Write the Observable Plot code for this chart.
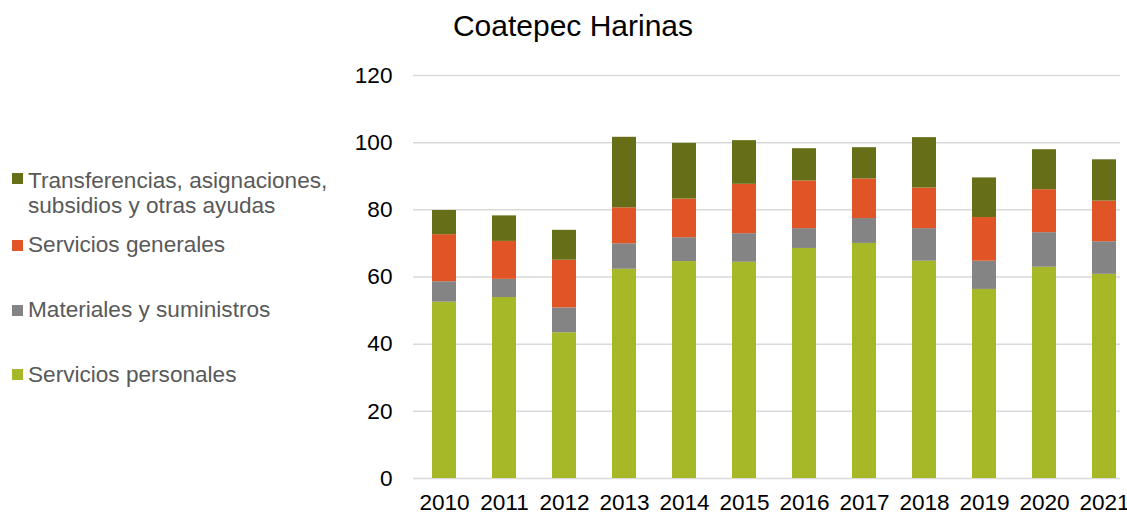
<!DOCTYPE html>
<html>
<head>
<meta charset="utf-8">
<script src="https://cdn.jsdelivr.net/npm/d3@7"></script>
<script src="https://cdn.jsdelivr.net/npm/@observablehq/plot@0.6"></script>
<style>
  html, body { margin: 0; padding: 0; background: #fff; }
  #wrap { position: relative; width: 1127px; height: 514px; overflow: hidden; font-family: "Liberation Sans", Arial, sans-serif; }
  #chart { position: absolute; left: 0; top: 0; }
  #title { position: absolute; left: 0; width: 1146px; top: 11px; text-align: center; font-size: 30px; line-height: 1; color: #000; }
  .lg { position: absolute; left: 28px; font-size: 22.6px; line-height: 25px; color: #595959; white-space: nowrap; }
  .sw { position: absolute; left: 12px; width: 11px; height: 11px; }
</style>
</head>
<body>
<div id="wrap">
  <div id="chart"></div>
  <div id="title">Coatepec Harinas</div>
  <div id="legend"></div>
</div>
<script>
const years = ["2010","2011","2012","2013","2014","2015","2016","2017","2018","2019","2020","2021"];
const serviciosPersonales = [52.5, 53.9, 43.4, 62.3, 64.6, 64.4, 68.5, 70.0, 64.7, 56.3, 62.9, 60.8];
const materialesSuministros = [6.1, 5.4, 7.4, 7.6, 7.1, 8.5, 5.9, 7.4, 9.7, 8.4, 10.3, 9.7];
const serviciosGenerales = [14.0, 11.3, 14.2, 10.7, 11.5, 14.7, 14.2, 11.8, 12.1, 13.0, 12.8, 12.1];
const transferencias = [7.2, 7.6, 8.9, 21.0, 16.6, 13.0, 9.6, 9.3, 15.0, 11.8, 11.9, 12.3];
const seriesNames = ["Servicios personales", "Materiales y suministros", "Servicios generales", "Transferencias, asignaciones, subsidios y otras ayudas"];
const seriesColors = ["#a6b728", "#848484", "#e05426", "#666f18"];
const yTicks = [0, 20, 40, 60, 80, 100, 120];

const seriesValues = [serviciosPersonales, materialesSuministros, serviciosGenerales, transferencias];
const data = [];
seriesNames.forEach((s, i) => {
  years.forEach((y, j) => data.push({year: y, serie: s, value: seriesValues[i][j]}));
});

const chart = Plot.plot({
  width: 1127,
  height: 514,
  marginLeft: 413,
  marginRight: 7,
  marginTop: 75,
  marginBottom: 36,
  x: {domain: years, range: [413, 1135], paddingInner: 0.6, paddingOuter: 0.3, label: null, tickSize: 0, tickPadding: 15},
  y: {domain: [0, 120], ticks: yTicks, label: null, tickSize: 0, tickPadding: 21},
  color: {domain: seriesNames, range: seriesColors},
  style: {fontFamily: "'Liberation Sans', Arial, sans-serif", fontSize: "22.6px", color: "#000", background: "transparent", overflow: "visible"},
  marks: [
    Plot.ruleY(yTicks, {stroke: "#d9d9d9", strokeWidth: 1.5}),
    Plot.barY(data, {x: "year", y: "value", fill: "serie"})
  ]
});
document.getElementById("chart").appendChild(chart);

// Legend (top to bottom: reversed stack order)
const legendItems = [
  {lines: ["Transferencias, asignaciones,", "subsidios y otras ayudas"], color: seriesColors[3], top: 168, sq: 173},
  {lines: ["Servicios generales"], color: seriesColors[2], top: 232, sq: 240},
  {lines: ["Materiales y suministros"], color: seriesColors[1], top: 297, sq: 305},
  {lines: ["Servicios personales"], color: seriesColors[0], top: 362, sq: 369}
];
const lg = document.getElementById("legend");
legendItems.forEach(it => {
  const sw = document.createElement("span");
  sw.className = "sw";
  sw.style.top = it.sq + "px";
  sw.style.background = it.color;
  lg.appendChild(sw);
  const t = document.createElement("div");
  t.className = "lg";
  t.style.top = it.top + "px";
  t.innerHTML = it.lines.join("<br>");
  lg.appendChild(t);
});
</script>
</body>
</html>
